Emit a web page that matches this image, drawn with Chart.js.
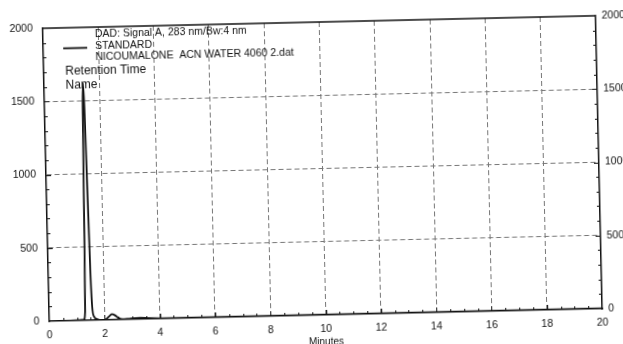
<!DOCTYPE html>
<html>
<head>
<meta charset="utf-8">
<script src="https://cdn.jsdelivr.net/npm/chart.js@4.4.1/dist/chart.umd.min.js"></script>
<style>
  html, body { margin: 0; padding: 0; background: #fff; overflow: hidden; width: 623px; height: 344px; }
  /* the scanned print is slightly tilted */
  #wrap { position: absolute; left: 0; top: 0; width: 650px; height: 350px;
          transform: rotate(-1.3deg); transform-origin: 322px 168.5px; }
</style>
</head>
<body>
<div id="wrap"><canvas id="chart" width="650" height="350"></canvas></div>
<script>
// chromatogram trace, minutes vs mAU
const times  = [0, 0.5, 1.0, 1.25, 1.3, 1.34, 1.38, 1.41, 1.44, 1.48, 1.52, 1.56, 1.62, 1.75, 1.9, 2.05, 2.17, 2.27, 2.38, 2.5, 2.65, 2.85, 3.1, 3.3, 3.6, 4, 6, 8, 10, 12, 14, 16, 18, 20];
const signal = [0, 0, 2, 5, 60, 700, 1450, 1620, 1450, 900, 350, 90, 25, 5, -3, 5, 25, 38, 30, 12, 2, 4, 8, 9, 5, 3, 3, 2, 2, 2, 2, 2, 2, 2];

const xRange = [0, 20];
const yRange = [0, 2000];
const xStep = 2;
const yStep = 500;

const legendLines = ['DAD: Signal A, 283 nm/Bw:4 nm', 'STANDARD', 'NICOUMALONE  ACN WATER 4060 2.dat'];
const peakLabels = ['Retention Time', 'Name'];

const fam = "'Liberation Sans', Arial, sans-serif";
const tickFont = {family: fam, size: 10.5};
const ink = '#111';
const plain = v => String(v);

const inner = (lo, hi) => ctx => (ctx.tick && ctx.tick.value > lo && ctx.tick.value < hi) ? '#777' : 'rgba(0,0,0,0)';

// short tick marks pointing into the plot, plus the top frame line
const frameTicks = {
    id: 'frameTicks',
    afterDatasetsDraw(chart) {
        const {ctx, chartArea: a, scales: {x, y}} = chart;
        ctx.save();
        ctx.strokeStyle = ink;
        ctx.lineWidth = 1;
        ctx.beginPath();
        for (let v = 0.5; v < xRange[1]; v += 0.5) {
            const px = Math.round(x.getPixelForValue(v)) + 0.5;
            ctx.moveTo(px, a.bottom);
            ctx.lineTo(px, a.bottom - (v % 2 === 0 ? 5 : 3));
        }
        for (let v = 100; v < yRange[1]; v += 100) {
            const py = Math.round(y.getPixelForValue(v)) + 0.5;
            const len = v % 500 === 0 ? 5 : 3;
            ctx.moveTo(a.left, py); ctx.lineTo(a.left + len, py);
            ctx.moveTo(a.right, py); ctx.lineTo(a.right - len, py);
        }
        ctx.stroke();
        ctx.lineWidth = 1.3;
        ctx.beginPath();
        ctx.moveTo(a.left, a.top); ctx.lineTo(a.right, a.top);
        ctx.stroke();
        ctx.restore();
    }
};

// header text block and the peak annotation
const notes = {
    id: 'notes',
    afterDraw(chart) {
        const {ctx, chartArea: a} = chart;
        ctx.save();
        ctx.fillStyle = ink;
        ctx.textBaseline = 'middle';
        ctx.font = '10.5px ' + fam;
        legendLines.forEach((t, i) => ctx.fillText(t, a.left + 52, a.top + 7.5 + i * 11.5));
        ctx.strokeStyle = ink;
        ctx.lineWidth = 1.8;
        ctx.beginPath();
        ctx.moveTo(a.left + 20, a.top + 20.5);
        ctx.lineTo(a.left + 44, a.top + 20.5);
        ctx.stroke();
        ctx.font = '12px ' + fam;
        peakLabels.forEach((t, i) => ctx.fillText(t, a.left + 21.5, a.top + 44 + i * 14));
        ctx.restore();
    }
};

new Chart(document.getElementById('chart'), {
    type: 'line',
    data: {
        datasets: [{
            data: times.map((t, i) => ({x: t, y: signal[i]})),
            borderColor: ink,
            borderWidth: 1.8,
            pointRadius: 0,
            cubicInterpolationMode: 'monotone',
            fill: false
        }]
    },
    options: {
        responsive: false,
        animation: false,
        layout: {padding: {top: 22}},
        plugins: {legend: {display: false}, tooltip: {enabled: false}},
        scales: {
            x: {
                type: 'linear', min: xRange[0], max: xRange[1],
                ticks: {stepSize: xStep, padding: 8, color: ink, font: tickFont, callback: plain},
                grid: {color: inner(xRange[0], xRange[1]), lineWidth: 1, drawTicks: false},
                border: {color: ink, width: 1.5, dash: [5, 3]},
                title: {display: true, text: 'Minutes', color: ink, font: {family: fam, size: 10}, padding: {top: 0, bottom: 2}},
                afterFit: s => { s.height = 35; }
            },
            y: {
                min: yRange[0], max: yRange[1],
                ticks: {stepSize: yStep, padding: 10, color: ink, font: tickFont, callback: plain},
                grid: {color: inner(yRange[0], yRange[1]), lineWidth: 1, drawTicks: false},
                border: {color: ink, width: 1.5, dash: [5, 3]},
                afterFit: s => { s.width = 46; }
            },
            y2: {
                position: 'right', min: yRange[0], max: yRange[1],
                ticks: {stepSize: yStep, padding: 6, color: ink, font: tickFont, callback: plain},
                grid: {drawOnChartArea: false, drawTicks: false},
                border: {color: ink, width: 1.5},
                afterFit: s => { s.width = 51; }
            }
        }
    },
    plugins: [frameTicks, notes]
});
</script>
</body>
</html>
